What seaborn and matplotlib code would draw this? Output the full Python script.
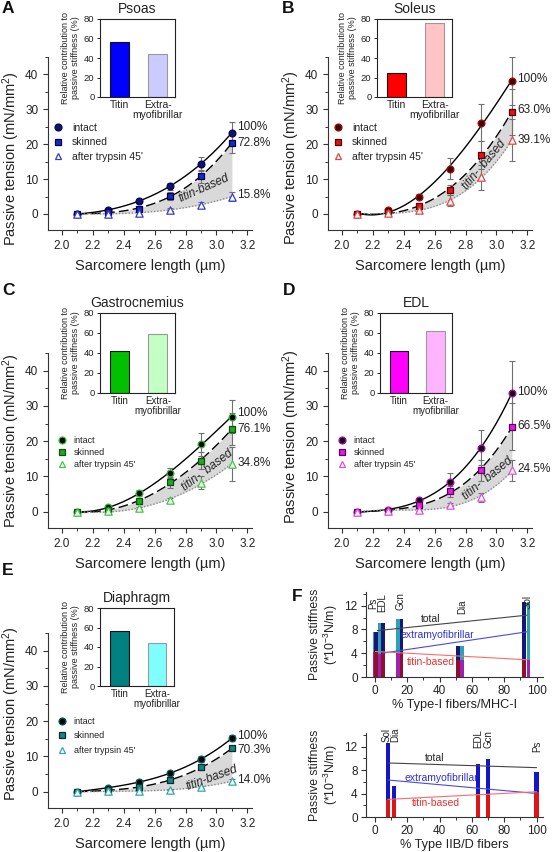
import numpy as np
import pandas as pd
import matplotlib
matplotlib.use('Agg')
import matplotlib.pyplot as plt
import seaborn as sns
from matplotlib.lines import Line2D
from matplotlib.ticker import MultipleLocator

sns.set_theme(style='ticks')
plt.rcParams['font.family'] = ['Liberation Sans', 'DejaVu Sans']
plt.rcParams['mathtext.fontset'] = 'custom'
plt.rcParams['mathtext.rm'] = 'Liberation Sans'
plt.rcParams['mathtext.it'] = 'Liberation Sans:italic'

# ---------------- data ----------------
SL = [2.1, 2.3, 2.5, 2.7, 2.9, 3.1]

psoas_intact = [0.0, 1.2, 3.7, 8.0, 14.4, 23.3]
psoas_skinned = [0.0, 0.5, 1.5, 5.2, 10.8, 20.4]
psoas_trypsin = [0.0, 0.1, 0.3, 1.2, 2.7, 5.0]
psoas_intact_err = [0.0, 0.3, 0.5, 1.0, 2.0, 3.2]
psoas_skinned_err = [0.0, 0.2, 0.4, 1.2, 1.8, 3.0]
psoas_trypsin_err = [0.0, 0.1, 0.2, 0.4, 0.6, 1.2]

soleus_intact = [0.0, 1.2, 5.0, 13.0, 26.2, 38.1]
soleus_skinned = [0.0, 0.5, 2.3, 6.9, 16.9, 29.2]
soleus_trypsin = [0.0, 0.3, 1.0, 3.8, 10.5, 21.1]
soleus_intact_err = [0.0, 0.5, 0.8, 3.0, 5.3, 7.0]
soleus_skinned_err = [0.0, 0.3, 0.8, 1.5, 4.0, 6.5]
soleus_trypsin_err = [0.0, 0.2, 0.5, 1.5, 3.6, 6.0]

gastro_intact = [0.0, 1.3, 5.3, 11.0, 19.1, 27.0]
gastro_skinned = [0.0, 0.5, 3.1, 8.3, 14.5, 23.5]
gastro_trypsin = [0.0, 0.2, 1.0, 3.4, 8.2, 13.5]
gastro_intact_err = [0.0, 0.4, 0.8, 1.5, 3.2, 4.6]
gastro_skinned_err = [0.0, 0.3, 0.8, 1.5, 2.5, 4.6]
gastro_trypsin_err = [0.0, 0.1, 0.3, 0.6, 1.8, 4.8]

edl_intact = [0.0, 0.5, 3.3, 8.4, 18.2, 33.7]
edl_skinned = [0.0, 0.3, 1.8, 5.8, 11.8, 24.1]
edl_trypsin = [0.0, 0.2, 0.5, 2.0, 4.1, 11.7]
edl_intact_err = [0.0, 0.3, 0.7, 2.7, 5.0, 9.0]
edl_skinned_err = [0.0, 0.2, 0.5, 1.5, 3.0, 6.6]
edl_trypsin_err = [0.0, 0.1, 0.2, 0.5, 1.2, 3.0]

dia_intact = [0.0, 1.1, 2.8, 5.3, 9.2, 15.2]
dia_skinned = [0.0, 0.5, 1.3, 3.3, 6.9, 12.3]
dia_trypsin = [0.0, 0.1, 0.2, 0.6, 1.4, 3.0]
dia_intact_err = [0.0, 0.3, 0.5, 0.6, 0.8, 0.9]
dia_skinned_err = [0.0, 0.2, 0.4, 0.5, 0.6, 0.8]
dia_trypsin_err = [0.0, 0.1, 0.1, 0.2, 0.3, 0.5]

inset_categories = ['Titin', 'Extra-\nmyofibrillar']
psoas_contrib = [56.7, 43.6]
soleus_contrib = [24.5, 76.2]
gastro_contrib = [41.5, 59.0]
edl_contrib = [42.2, 61.8]
dia_contrib = [56.5, 44.0]

pct_labels_psoas = ['100%', '72.8%', '15.8%']
pct_labels_soleus = ['100%', '63.0%', '39.1%']
pct_labels_gastro = ['100%', '76.1%', '34.8%']
pct_labels_edl = ['100%', '66.5%', '24.5%']
pct_labels_dia = ['100%', '70.3%', '14.0%']

# panel F
F_muscles = ['Ps', 'EDL', 'Gcn', 'Dia', 'Sol']
F_total = [7.6, 9.1, 9.8, 5.2, 12.6]
F_titin = [4.2, 3.9, 4.0, 2.9, 2.9]
F_typeI_fibers = [0.5, 4.8, 16.5, 51.5, 92.4]
F_MHC_I = [0.0, 3.0, 14.5, 54.0, 95.0]
F_typeIIBD = [100, 64, 70, 12, 8]

F1_total_line = ([1.5, 94], [7.8, 10.4])
F1_extra_line = ([4.5, 94], [4.0, 7.6])
F1_titin_line = ([0.3, 94], [4.3, 2.9])
F2_total_line = ([8, 100], [9.2, 8.4])
F2_extra_line = ([8, 100], [6.3, 4.0])
F2_titin_line = ([8, 100], [3.0, 4.3])

# ---------------- figure ----------------
W, H = 556, 852
fig = plt.figure(figsize=(W / 100, H / 100), dpi=100)


def px(x0, y0, x1, y1):
    return [x0 / W, 1 - y1 / H, (x1 - x0) / W, (y1 - y0) / H]


TXT = '#222222'


def main_panel(rect, ins_rect, title, intact, skinned, tryp, e_i, e_s, e_t,
               cols, contrib, bar_cols, pct_labels, pct_y, tb_text, tb_xy, tb_rot,
               leg_anchor, leg_fs, leg_spacing, ylab_y, ins_xfs):
    ax = fig.add_axes(px(*rect))
    x = np.array(SL)
    xs = np.linspace(2.1, 3.1, 200)
    f_i = np.polyval(np.polyfit(x, intact, 3), xs)
    f_s = np.polyval(np.polyfit(x, skinned, 3), xs)
    f_t = np.polyval(np.polyfit(x, tryp, 3), xs)
    ax.fill_between(xs, f_t, f_s, color='#d9d9d9', lw=0, zorder=1)
    ax.plot(xs, f_i, color='black', lw=1.0, zorder=2)
    ax.plot(xs, f_s, color='black', lw=1.0, ls=(0, (7, 3)), zorder=2)
    ax.plot(xs, f_t, color='#8c8c8c', lw=1.0, ls=(0, (1, 1.3)), zorder=2)
    for vals, err in ((intact, e_i), (skinned, e_s), (tryp, e_t)):
        ax.errorbar(x, vals, yerr=err, fmt='none', ecolor='#707070', elinewidth=0.8,
                    capsize=2, capthick=0.8, zorder=2.5)
    specs = [('intact', intact, 'o', cols[0], cols[1], 24),
             ('skinned', skinned, 's', cols[2], cols[3], 24),
             ("after trypsin 45'", tryp, '^', 'white', cols[4], 28)]
    handles = []
    for name, vals, mk, fc, ec, s in specs:
        df = pd.DataFrame({'SL': SL, 'T': vals})
        sns.scatterplot(data=df, x='SL', y='T', marker=mk, color=fc, edgecolor=ec,
                        s=s, linewidth=0.9, ax=ax, zorder=3, legend=False)
        handles.append(Line2D([], [], ls='none', marker=mk, markerfacecolor=fc,
                              markeredgecolor=ec, markersize=5, markeredgewidth=0.9,
                              label=name))
    ax.legend(handles=handles, loc='upper left', bbox_to_anchor=leg_anchor, frameon=False,
              fontsize=leg_fs, handlelength=0.8, handletextpad=0.9, labelspacing=leg_spacing,
              borderaxespad=0, borderpad=0, labelcolor=TXT)
    ax.set_xlim(1.91, 3.23)
    ax.set_ylim(-4.6, 45)
    xt = np.round(np.arange(2.0, 3.21, 0.2), 1)
    ax.set_xticks(xt)
    ax.set_xticklabels([f'{v:.1f}' for v in xt])
    ax.xaxis.set_minor_locator(MultipleLocator(0.1))
    ax.set_yticks([0, 10, 20, 30, 40])
    ax.yaxis.set_minor_locator(MultipleLocator(5))
    ax.tick_params(which='major', direction='out', length=3.5, width=0.8, labelsize=8.5,
                   labelcolor=TXT, color='#333')
    ax.tick_params(which='minor', direction='out', length=2, width=0.7, color='#333')
    sns.despine(ax=ax)
    for sp in ('left', 'bottom'):
        ax.spines[sp].set_linewidth(0.8)
        ax.spines[sp].set_color('#333')
    ax.set_xlabel('Sarcomere length (µm)', fontsize=10.5, color=TXT, labelpad=5)
    ax.set_ylabel('Passive tension (mN/mm$^2$)', fontsize=10.5, color=TXT)
    ax.yaxis.set_label_coords(-0.128, ylab_y)
    for lab, yy in zip(pct_labels, pct_y):
        ax.text(3.135, yy, lab, fontsize=8.5, va='center', ha='left', color=TXT, clip_on=False)
    ax.text(tb_xy[0], tb_xy[1], tb_text, fontsize=8.5, style='italic', rotation=tb_rot,
            ha='center', va='center', color=TXT, rotation_mode='anchor')

    ins = fig.add_axes(px(*ins_rect))
    sns.barplot(x=inset_categories, y=contrib, hue=inset_categories, palette=bar_cols,
                width=0.5, ax=ins, legend=False, linewidth=0.8, saturation=1)
    ins.patches[0].set_edgecolor('#111111')
    ins.patches[1].set_edgecolor('#999999')
    ins.set_xlim(-0.52, 1.45)
    ins.set_ylim(0, 80)
    ins.set_yticks([0, 20, 40, 60, 80])
    ins.tick_params(axis='y', direction='out', length=2.5, width=0.7, labelsize=6.8,
                    labelcolor=TXT, pad=1.5)
    ins.tick_params(axis='x', length=0, labelsize=ins_xfs, labelcolor=TXT, pad=2)
    for lbl in ins.get_xticklabels():
        lbl.set_linespacing(1.0)
    for sp in ins.spines.values():
        sp.set_linewidth(0.8)
        sp.set_color('#222')
    ins.set_xlabel('')
    ins.set_ylabel('Relative contribution to\npassive stiffness (%)', fontsize=6.5,
                   color=TXT, labelpad=3, linespacing=1.1)
    ins.set_title(title, fontsize=10, color=TXT, pad=4)
    return ax


# A Psoas
main_panel((48, 57, 252, 230), (100, 19, 175, 97), 'Psoas',
           psoas_intact, psoas_skinned, psoas_trypsin,
           psoas_intact_err, psoas_skinned_err, psoas_trypsin_err,
           ['#15155a', '#000070', '#1a2ab8', '#000050', '#3a3ad0'],
           psoas_contrib, ['#0000ff', '#cbcbff'],
           pct_labels_psoas, [25.0, 20.3, 5.5], 'titin-based', (2.92, 7.4), 24,
           (0.03, 0.62), 7.5, 0.45, 0.41, 7.5)
# B Soleus
main_panel((328, 57, 532, 230), (377, 19, 452, 97), 'Soleus',
           soleus_intact, soleus_skinned, soleus_trypsin,
           soleus_intact_err, soleus_skinned_err, soleus_trypsin_err,
           ['#2a0000', '#c00000', '#d81818', '#600000', '#e04848'],
           soleus_contrib, ['#ff0000', '#ffc4c4'],
           pct_labels_soleus, [38.8, 29.7, 21.3], 'titin-  based', (2.92, 14.0), 50,
           (0.03, 0.62), 7.5, 0.45, 0.42, 7.5)
# C Gastrocnemius
main_panel((48, 353, 252, 528), (100, 313, 175, 393), 'Gastrocnemius',
           gastro_intact, gastro_skinned, gastro_trypsin,
           gastro_intact_err, gastro_skinned_err, gastro_trypsin_err,
           ['#000000', '#30c030', '#22a822', '#105010', '#40c840'],
           gastro_contrib, ['#00c000', '#c4ffc4'],
           pct_labels_gastro, [28.0, 23.6, 13.7], 'titin-  based', (2.94, 11.7), 37,
           (0.05, 0.525), 6.5, 0.35, 0.50, 7.0)
# D EDL
main_panel((328, 353, 532, 528), (380, 313, 452, 393), 'EDL',
           edl_intact, edl_skinned, edl_trypsin,
           edl_intact_err, edl_skinned_err, edl_trypsin_err,
           ['#000000', '#c000c0', '#e020e0', '#600060', '#e050e0'],
           edl_contrib, ['#ff00ff', '#ffb4ff'],
           pct_labels_edl, [33.9, 24.2, 12.0], 'titin-  based', (2.94, 9.4), 39,
           (0.05, 0.525), 6.5, 0.35, 0.52, 7.0)
# E Diaphragm
main_panel((48, 633, 252, 808), (100, 608, 174, 686), 'Diaphragm',
           dia_intact, dia_skinned, dia_trypsin,
           dia_intact_err, dia_skinned_err, dia_trypsin_err,
           ['#000000', '#006060', '#208080', '#003030', '#30a8a8'],
           dia_contrib, ['#008080', '#80ffff'],
           pct_labels_dia, [15.9, 11.8, 3.3], 'titin-based', (2.97, 3.9), 20,
           (0.05, 0.52), 6.5, 0.6, 0.54, 7.0)


# ---------------- panel F ----------------
def style_F(ax, xlabel):
    ax.set_xlim(-5.5, 104)
    ax.set_ylim(0, 14.3)
    ax.set_xticks([0, 20, 40, 60, 80, 100])
    ax.xaxis.set_minor_locator(MultipleLocator(10))
    ax.set_yticks([0, 4, 8, 12])
    ax.yaxis.set_minor_locator(MultipleLocator(2))
    ax.tick_params(which='major', direction='out', length=3.5, width=0.8, labelsize=8.5,
                   labelcolor=TXT, color='#333', pad=2.5)
    ax.tick_params(which='minor', direction='out', length=2, width=0.7, color='#333')
    sns.despine(ax=ax)
    for sp in ('left', 'bottom'):
        ax.spines[sp].set_linewidth(0.8)
        ax.spines[sp].set_color('#333')
    ax.set_xlabel(xlabel, fontsize=9.2, color=TXT, labelpad=1)
    ax.set_ylabel('Passive stiffness\n(*10$^{-3}$N/m)', fontsize=8.8, color=TXT,
                  labelpad=3, linespacing=1.1)


def F_lines(ax, tot, ext, tit):
    for (xx, yy), c in ((tot, '#444444'), (ext, '#4848e8'), (tit, '#ff6a6a')):
        sns.lineplot(x=xx, y=yy, color=c, lw=0.8, ax=ax, zorder=4)


bw = 2.3
axF1 = fig.add_axes(px(366, 592, 543, 677))
axF1.bar(F_MHC_I, F_total, width=bw, color='#2aa4b4', lw=0, zorder=2)
axF1.bar(F_MHC_I, F_titin, width=bw, color='#a020b0', lw=0, zorder=2)
axF1.bar(F_typeI_fibers, F_total, width=bw, color='#161678', lw=0, zorder=3)
axF1.bar(F_typeI_fibers, F_titin, width=bw, color='#8c1030', lw=0, zorder=3)
F_lines(axF1, F1_total_line, F1_extra_line, F1_titin_line)
style_F(axF1, '% Type-I fibers/MHC-I')
axF1.text(34.5, 9.8, 'total', fontsize=7.5, color='#222', ha='center', va='center')
axF1.text(38.5, 7.0, 'extramyofibrillar', fontsize=7.5, color='#3030d0', ha='center', va='center')
axF1.text(34.5, 2.5, 'titin-based', fontsize=7.5, color='#e83030', ha='center', va='center')
F1_label_x = [-0.8, 4.6, 16.0, 54.0, 94.5]
F1_label_y = [11.4, 11.0, 11.3, 10.6, 11.4]
for lab, xx, yy in zip(F_muscles, F1_label_x, F1_label_y):
    axF1.text(xx, yy, lab, rotation=90, fontsize=7, ha='center', va='bottom',
              color=TXT, clip_on=False, linespacing=1.0)

axF2 = fig.add_axes(px(366, 733, 543, 817))
axF2.bar(F_typeIIBD, F_total, width=2.6, color='#1414c8', lw=0, zorder=2)
axF2.bar(F_typeIIBD, F_titin, width=2.6, color='#e01414', lw=0, zorder=2)
F_lines(axF2, F2_total_line, F2_extra_line, F2_titin_line)
style_F(axF2, '% Type IIB/D fibers')
axF2.text(37, 10.0, 'total', fontsize=7.5, color='#222', ha='center', va='center')
axF2.text(41, 6.7, 'extramyofibrillar', fontsize=7.5, color='#3030d0', ha='center', va='center')
axF2.text(38, 2.3, 'titin-based', fontsize=7.5, color='#e83030', ha='center', va='center')
F2_label_x = [100.5, 64.0, 70.5, 12.8, 7.4]
F2_label_y = [11.0, 11.7, 11.8, 12.8, 12.8]
for lab, xx, yy in zip(F_muscles, F2_label_x, F2_label_y):
    axF2.text(xx, yy, lab, rotation=90, fontsize=7, ha='center', va='bottom',
              color=TXT, clip_on=False)

# panel letters
for lab, (xx, yy) in zip('ABCDEF', [(2, 1), (282, 1), (2, 283), (283, 283), (2, 563), (292, 589)]):
    fig.text(xx / W, 1 - yy / H, lab, fontsize=12.5, fontweight='bold', va='top', ha='left',
             color='#111')

fig.savefig('out.png', dpi=100)
